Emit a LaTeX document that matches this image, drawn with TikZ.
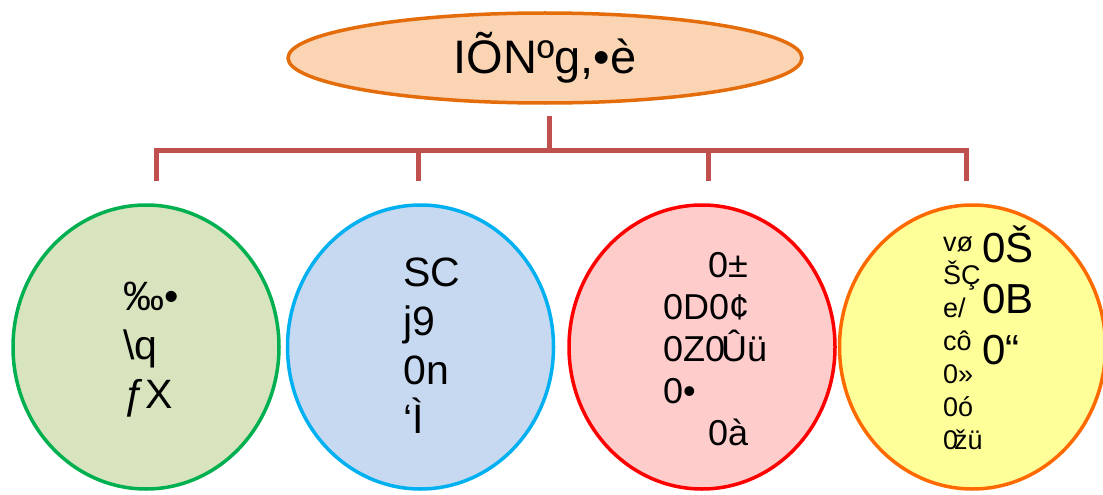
\documentclass[tikz,border=0pt]{standalone}
\usepackage{fontspec}
\setmainfont{Liberation Sans}
\usepackage{tikz}
\usetikzlibrary{positioning,shapes.geometric,calc}

\definecolor{peach}{HTML}{FBD4B4}
\definecolor{rootline}{HTML}{E46C0A}
\definecolor{linkred}{HTML}{C0504D}
\definecolor{grfill}{HTML}{D7E4BD}
\definecolor{grline}{HTML}{00B050}
\definecolor{blfill}{HTML}{C6D9F1}
\definecolor{blline}{HTML}{00B0F0}
\definecolor{rdfill}{HTML}{FFCCCC}
\definecolor{rdline}{HTML}{FF0000}
\definecolor{ylfill}{HTML}{FFFF99}
\definecolor{ylline}{HTML}{FF6A00}

\begin{document}
\begin{tikzpicture}[
  x=1pt, y=-1pt,
  root/.style={ellipse, draw=rootline, fill=peach, line width=3.5pt,
               minimum width=514pt, minimum height=90pt, inner sep=0pt,
               font=\fontsize{47}{50}\selectfont},
  topic/.style={ellipse, line width=3.5pt, minimum width=266pt,
                minimum height=284pt, inner sep=0pt},
  link/.style={draw=linkred, line width=5pt},
  txt/.style={inner sep=0pt, align=left, anchor=north west},
  big/.style={font=\fontsize{41}{49}\selectfont},
  mid/.style={font=\fontsize{36}{42}\selectfont},
  small/.style={font=\fontsize{27}{33}\selectfont}
]
\useasboundingbox (0,0) rectangle (1103,495);

\node[root] (title) at (545,58) {IÕNºg,•è};

\node[topic, draw=grline, fill=grfill] (green) at (146,347) {};
\node[topic, draw=blline, fill=blfill, right=5pt of green] (blue) {};
\node[topic, draw=rdline, fill=rdfill, right=12pt of blue] (red) {};
\node[topic, draw=ylline, fill=ylfill, right=1pt of red] (yellow) {};

% texts in the circles
\node[txt, big] (gtext) at (123,282) {‰•\\\textbackslash q\\ƒX};
\node[txt, big] (btext) at (403,258) {SC\\j9\\0n\\‘Ì};
\node[txt, mid] (rtext) at (663,252) {\hspace{45pt}0±\\0D0¢\\0Z0\kern-4pt Ûü\\0•\\\hspace{45pt}0à};
\node[txt, small] (ytext1) at (943,237) {vø\\ŠÇ\\e/\\cô\\0»\\0ó\\0\kern-4pt žü};
\node[txt, font=\fontsize{42}{51}\selectfont] (ytext2) at (982,226) {0Š\\0B\\0“};

% bracket
\coordinate (hub) at ($(title.south)+(4,46)$);
\coordinate (d1) at ($(green.north)+(10,-22)$);
\coordinate (d2) at ($(blue.north)+(-2,-22)$);
\coordinate (d3) at ($(red.north)+(6,-22)$);
\coordinate (d4) at ($(yellow.north)+(-6,-22)$);
\draw[link] ($(title.south)+(4,11)$) -- (hub);
\draw[link] (d1) |- (hub) -| (d4);
\draw[link] (d2) -- (d2 |- hub);
\draw[link] (d3) -- (d3 |- hub);
\end{tikzpicture}
\end{document}
